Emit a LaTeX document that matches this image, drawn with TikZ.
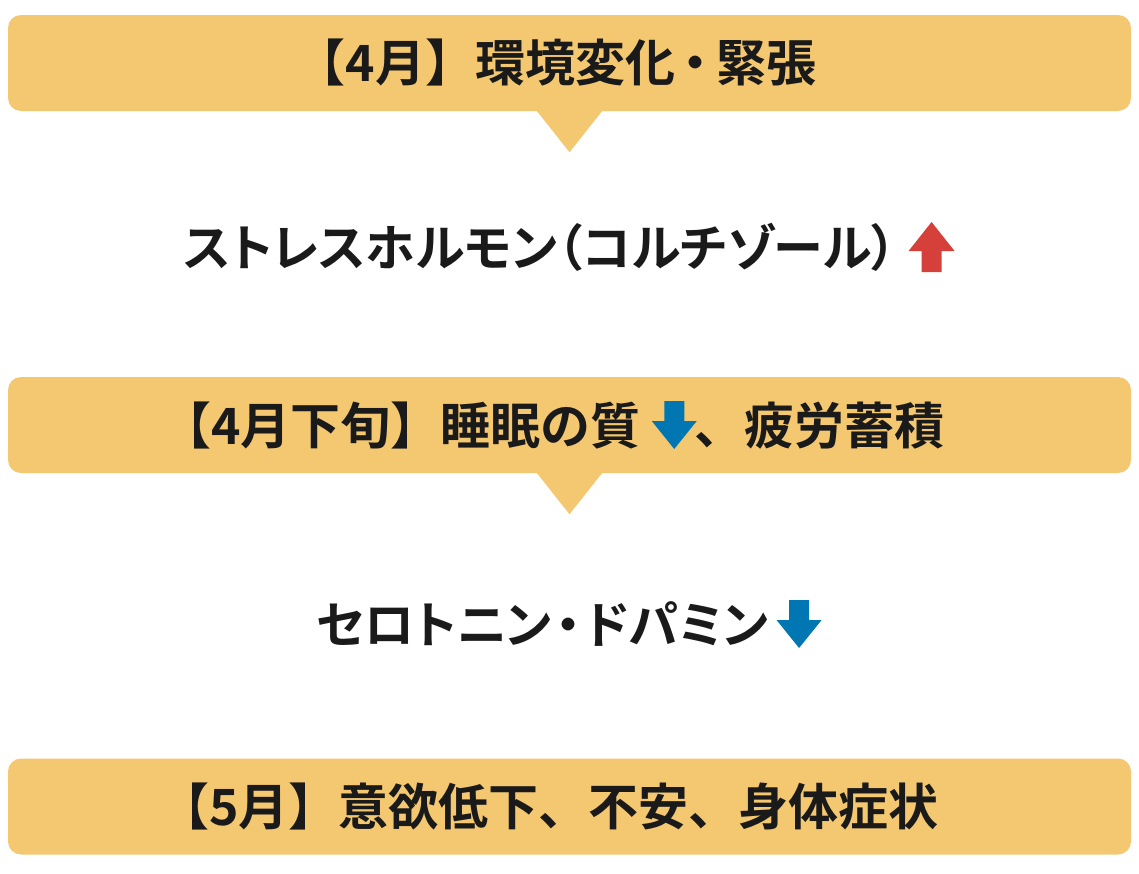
\documentclass[tikz,border=0pt]{standalone}
\usepackage{fontspec}
\newfontfamily\jp{Noto Sans CJK JP}[UprightFont=* Bold]
\newfontfamily\jpp{Noto Sans CJK JP}[UprightFont=* Bold, RawFeature=+palt]
\definecolor{banyel}{HTML}{F4C870}
\definecolor{txtblk}{HTML}{1A1A1A}
\definecolor{arrred}{HTML}{D5403A}
\definecolor{arrblu}{HTML}{0077B3}
\newcommand\myuparr{\tikz[baseline=0pt,x=1pt,y=1pt]\fill[arrred] (-10,-6) -- (10,-6) -- (10,15) -- (23,15) -- (0,44) -- (-23,15) -- (-10,15) -- cycle;}
\newcommand\mydnarr{\tikz[baseline=0pt,x=1pt,y=1pt]\fill[arrblu] (-10,43) -- (10,43) -- (10,23) -- (22.5,23) -- (0,-5) -- (-22.5,23) -- (-10,23) -- cycle;}
\begin{document}
\begin{tikzpicture}[x=1pt,y=-1pt,
  banner/.style={fill=banyel, rounded corners=13pt, inner sep=0pt, minimum width=1123pt, minimum height=96pt},
  lbl/.style={anchor=base, inner sep=0pt, text=txtblk, font=\jp\fontsize{50pt}{58pt}\selectfont},
  pointer/.style={fill=banyel}]
\useasboundingbox[fill=white] (0,0) rectangle (1139,873);
\node[banner] (b1) at (569.5,63) {};
\node[banner] (b2) at (569.5,425) {};
\node[banner] (b3) at (569.5,806.5) {};
\fill[pointer] ([xshift=-32.5pt]b1.south) -- ([xshift=32.5pt]b1.south) -- ([yshift=-41pt]b1.south) -- cycle;
\fill[pointer] ([xshift=-32.5pt]b2.south) -- ([xshift=32.5pt]b2.south) -- ([yshift=-41pt]b2.south) -- cycle;
\node[lbl] (t1) at (556,81) {【4月】環境変化\hspace{8pt}{\jpp ・}\hspace{8pt}緊張};
\node[lbl] (t2) at (569,266) {\jpp ストレスホルモン（コルチゾール）\hspace{12pt}\myuparr};
\node[lbl] (t3) at (553,444) {【4月下旬】睡眠の質\hspace{11pt}\mydnarr\hspace{-2pt}、疲労蓄積};
\node[lbl] (t4) at (569,643) {\jpp セロトニン\hspace{4pt}・\hspace{4pt}ドパミン\hspace{8pt}\mydnarr};
\node[lbl] (t5) at (549,825) {【5月】意欲低下、不安、身体症状};
\end{tikzpicture}
\end{document}
